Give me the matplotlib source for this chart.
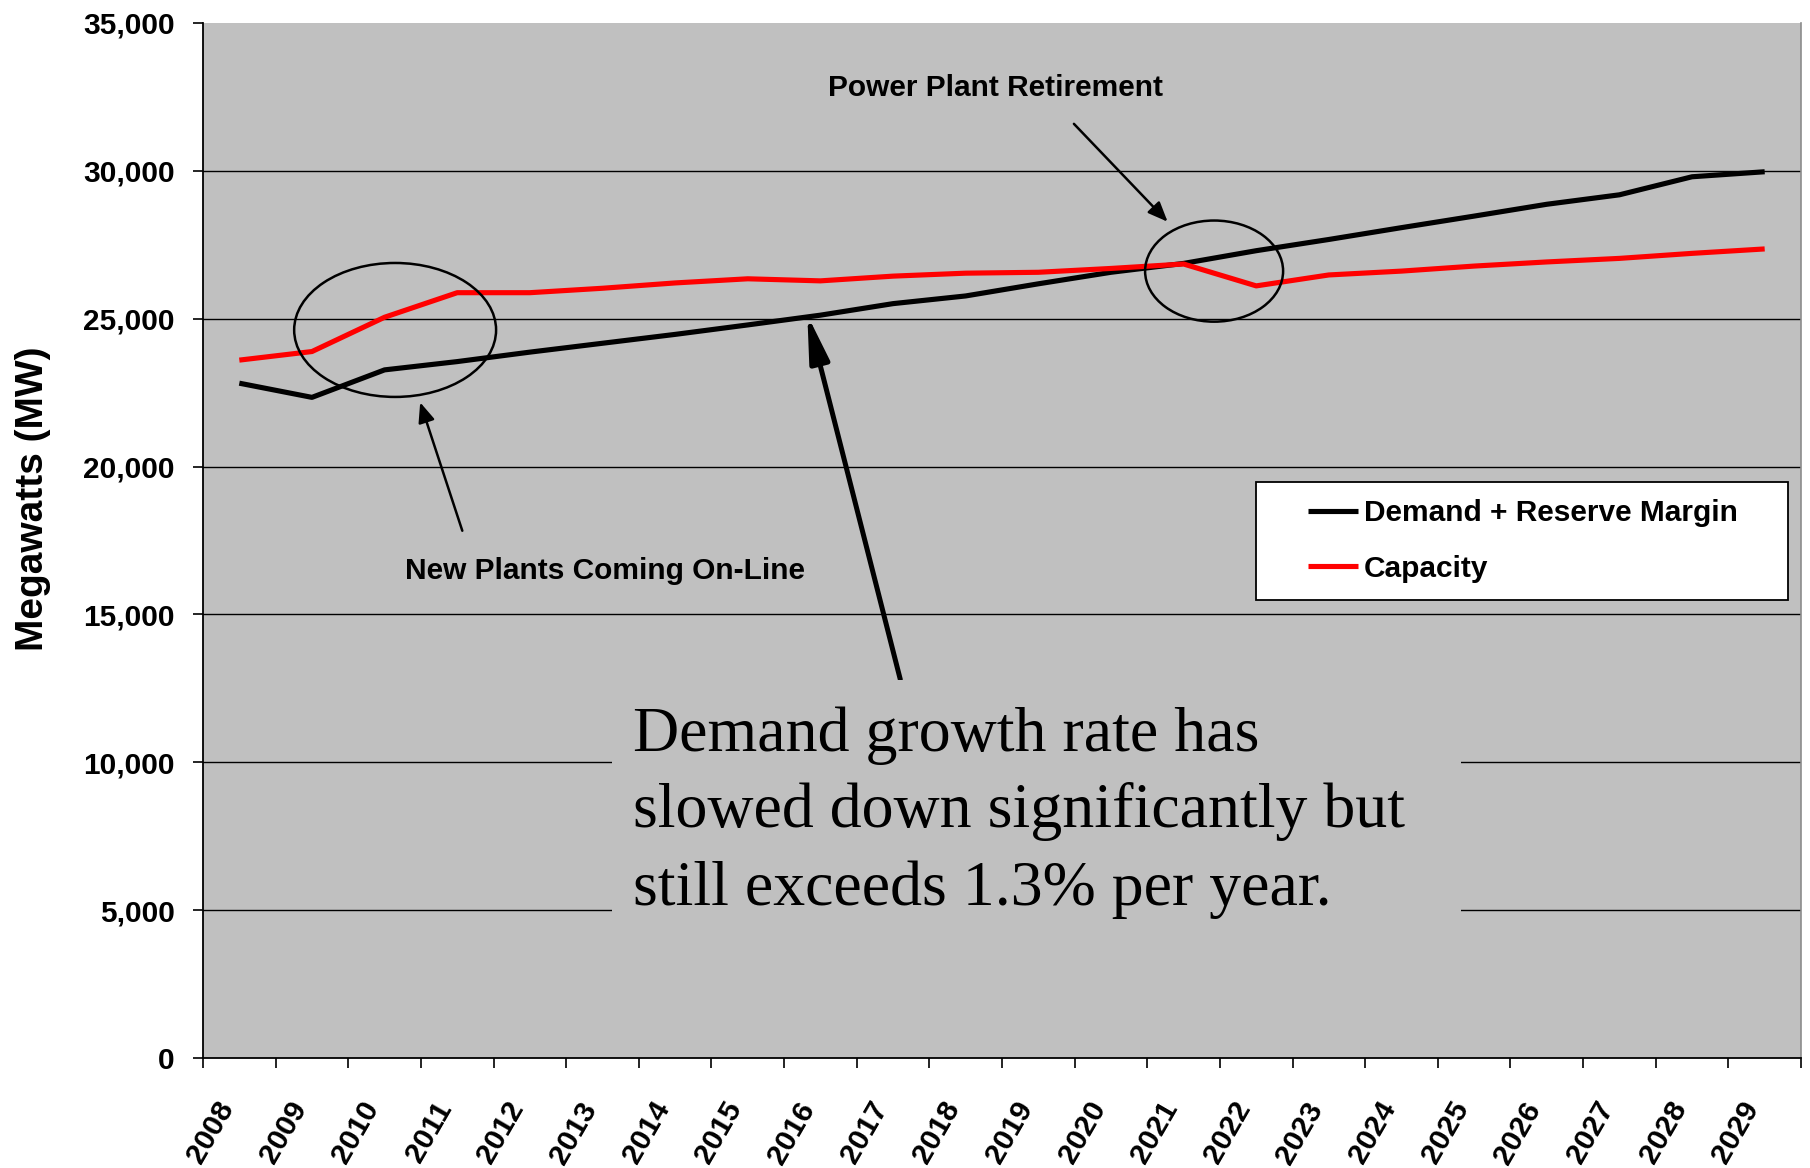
import numpy as np
import matplotlib
matplotlib.use("Agg")
import matplotlib.pyplot as plt
from matplotlib.patches import Ellipse, Rectangle
from matplotlib.ticker import FuncFormatter

# Data (MW)
years = [str(y) for y in range(2008, 2030)]
demand = [22820, 22340, 23270, 23550, 23870, 24170, 24470, 24790, 25120, 25510, 25770,
          26180, 26570, 26870, 27300, 27680, 28080, 28470, 28870, 29190, 29800, 29970]
capacity = [23600, 23890, 25050, 25880, 25880, 26030, 26210, 26350, 26280, 26440, 26540,
            26570, 26700, 26850, 26110, 26480, 26610, 26780, 26920, 27040, 27210, 27360]
yticks = [0, 5000, 10000, 15000, 20000, 25000, 30000, 35000]

note_lines = ["Demand growth rate has",
              "slowed down significantly but",
              "still exceeds 1.3% per year."]

SANS = "Liberation Sans"
SERIF = "Liberation Serif"

fig = plt.figure(figsize=(18.1, 11.68), dpi=100)
fig.patch.set_facecolor("white")
ax = fig.add_axes([203 / 1810, 110 / 1168, 1598 / 1810, 1035 / 1168])
ax.set_facecolor("#C0C0C0")

x = np.arange(len(years))
ax.plot(x, demand, color="black", lw=3.7, solid_capstyle="butt", zorder=3,
        label="Demand + Reserve Margin")
ax.plot(x, capacity, color="#FF0000", lw=3.7, solid_capstyle="butt", zorder=3,
        label="Capacity")

ax.set_xlim(-0.5, len(years) - 0.5)
ax.set_ylim(0, 35000)

# y axis
ax.set_yticks(yticks)
ax.yaxis.set_major_formatter(FuncFormatter(lambda v, p: f"{int(v):,}"))
ax.tick_params(axis="y", direction="out", length=7.5, width=1.2, pad=13,
               labelsize=21.5, colors="black")
for lab in ax.get_yticklabels():
    lab.set_fontfamily(SANS)
    lab.set_fontweight("bold")
ax.yaxis.grid(True, color="black", lw=1.0)
ax.get_ygridlines()[-1].set_visible(False)
ax.get_ygridlines()[0].set_visible(False)
ax.set_axisbelow(True)

# x axis: labels at category centres, ticks at boundaries
ax.set_xticks(x)
ax.set_xticklabels(years, rotation=60, ha="right", fontsize=21.5,
                   fontfamily=SANS, fontweight="bold")
ax.tick_params(axis="x", which="major", length=0, pad=28)
ax.set_xticks(np.arange(len(years) + 1) - 0.5, minor=True)
ax.tick_params(axis="x", which="minor", direction="out", length=7.5, width=1.2)

ax.set_ylabel("Megawatts (MW)", fontsize=28, fontfamily=SANS, fontweight="bold")
ax.yaxis.set_label_coords(-0.095, 0.54)

for s in ["left", "bottom"]:
    ax.spines[s].set_color("black")
    ax.spines[s].set_linewidth(1.3)
ax.spines["top"].set_visible(False)
ax.spines["right"].set_color("#8C8C8C")
ax.spines["right"].set_linewidth(1.2)

# legend box
ax.add_patch(Rectangle((0.659, 0.4425), 0.333, 0.1143, transform=ax.transAxes,
                       facecolor="white", edgecolor="black", lw=1.3, zorder=5))
ax.legend(loc="center", bbox_to_anchor=(0.826, 0.4996), frameon=False,
          prop={"family": SANS, "weight": "bold", "size": 21.5},
          handlelength=1.65, handletextpad=0.2, labelspacing=0.92).set_zorder(6)

# circles
ax.add_patch(Ellipse((2.145, 24620), 2.78, 4530, fill=False, edgecolor="black",
                     lw=1.8, zorder=4))
ax.add_patch(Ellipse((13.42, 26610), 1.9, 3420, fill=False, edgecolor="black",
                     lw=1.8, zorder=4))

# annotations
ax.text(10.41, 32800, "Power Plant Retirement", ha="center", va="center",
        fontsize=21.5, fontfamily=SANS, fontweight="bold", zorder=4)
ax.annotate("", xy=(12.78, 28280), xytext=(11.49, 31590),
            arrowprops=dict(arrowstyle="-|>,head_length=0.6,head_width=0.25",
                            color="black", lw=1.8, mutation_scale=20,
                            shrinkA=0, shrinkB=0), zorder=4)

ax.text(5.03, 16470, "New Plants Coming On-Line", ha="center", va="center",
        fontsize=21.5, fontfamily=SANS, fontweight="bold", zorder=4)
ax.annotate("", xy=(2.49, 22170), xytext=(3.07, 17830),
            arrowprops=dict(arrowstyle="-|>,head_length=0.6,head_width=0.25",
                            color="black", lw=1.8, mutation_scale=20,
                            shrinkA=0, shrinkB=0), zorder=4)

ax.annotate("", xy=(7.82, 25130), xytext=(9.1, 12800),
            arrowprops=dict(arrowstyle="-|>,head_length=1.4,head_width=0.3",
                            color="black", lw=3.6, mutation_scale=20,
                            shrinkA=0, shrinkB=0), zorder=4)

# note box covering the grid
ax.add_patch(Rectangle((0.256, 0.1188), 0.531, 0.2464, transform=ax.transAxes,
                       facecolor="#C0C0C0", edgecolor="none", zorder=5))
baselines = [0.2969, 0.2235, 0.1478]
for line, yb in zip(note_lines, baselines):
    ax.text(0.269, yb, line, transform=ax.transAxes, ha="left", va="baseline",
            fontsize=46, fontfamily=SERIF, zorder=6)

fig.savefig("out.png", dpi=100, facecolor="white")
